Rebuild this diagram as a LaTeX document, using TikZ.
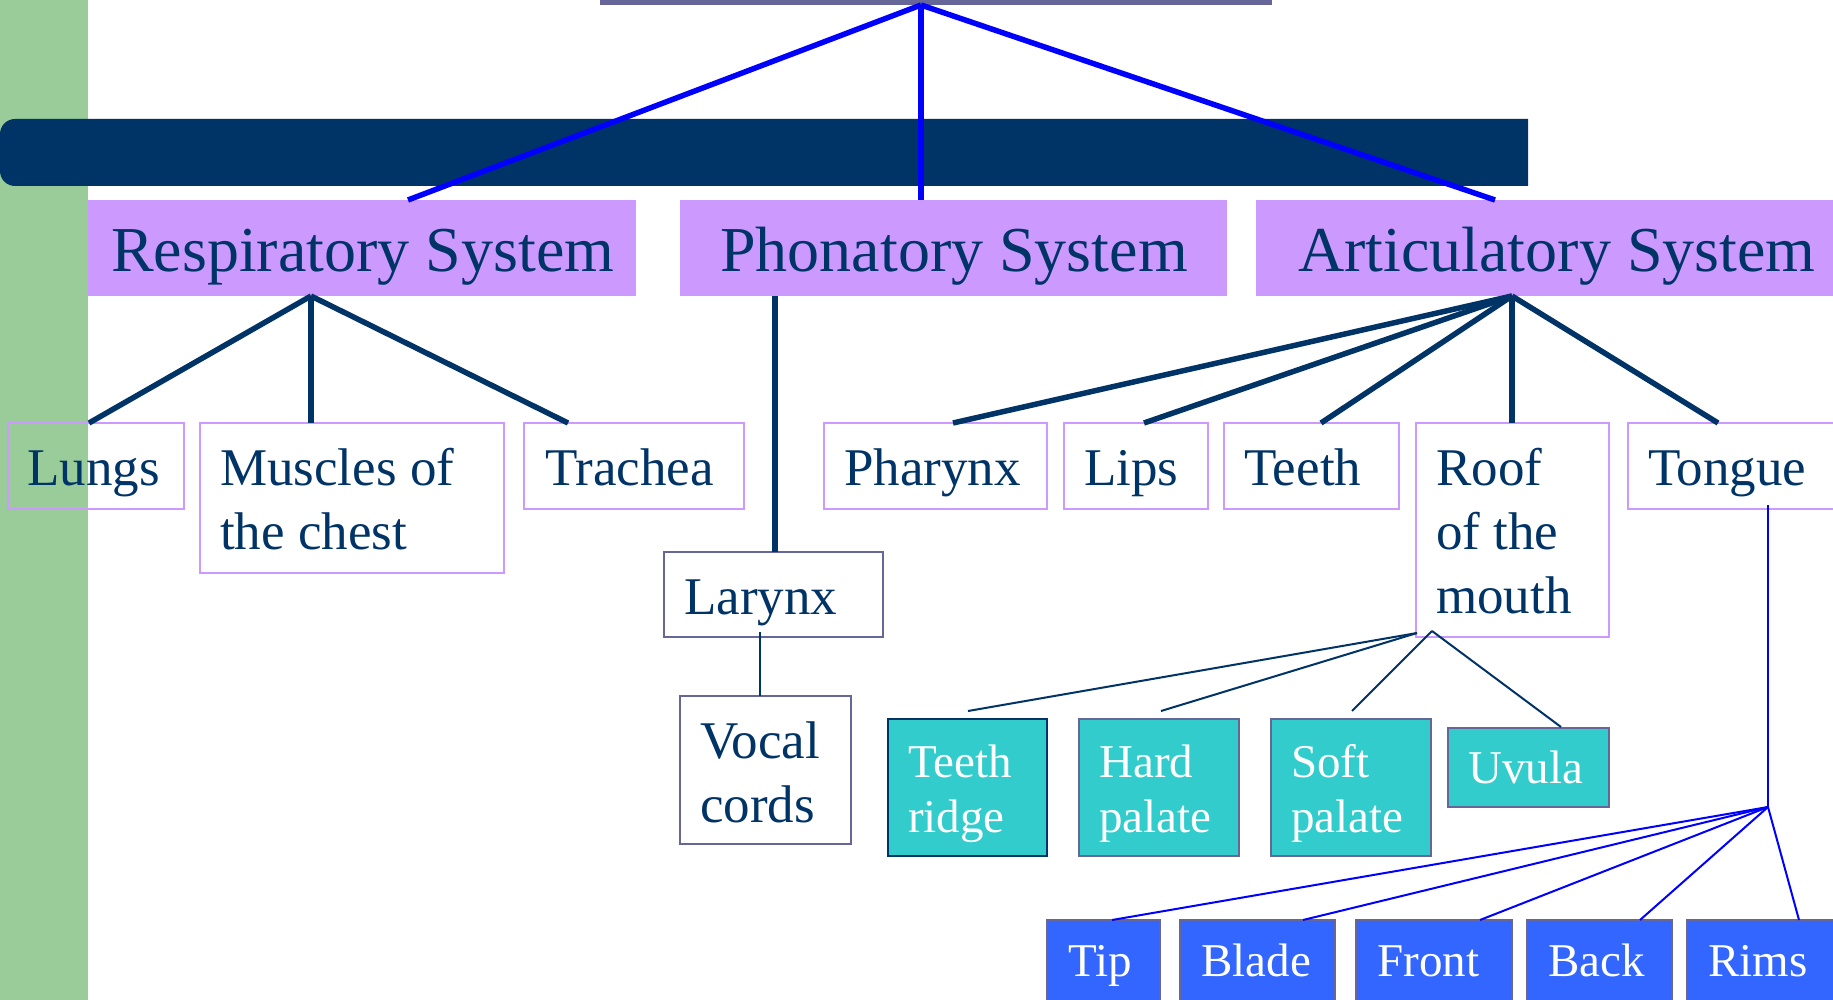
\documentclass[tikz,border=0pt]{standalone}
\usepackage{fontspec}
\setmainfont{Liberation Serif}
\definecolor{navy}{HTML}{003366}
\definecolor{lav}{HTML}{CC99FF}
\definecolor{slate}{HTML}{666699}
\definecolor{tealbox}{HTML}{33CCCC}
\definecolor{bluebox}{HTML}{3366FF}
\definecolor{sage}{HTML}{99CC99}
\definecolor{linkblue}{HTML}{0000FF}
\begin{document}
\begin{tikzpicture}[x=1pt,y=-1pt,
  boxbase/.style={anchor=north west, inner sep=0pt, outer sep=0pt},
  sysbox/.style={boxbase, fill=lav},
  partbox/.style={boxbase, draw=lav, line width=2pt},
  phonbox/.style={boxbase, draw=slate, line width=2pt},
  roofbox/.style={boxbase, fill=tealbox, draw=slate, line width=2pt},
  tonguebox/.style={boxbase, fill=bluebox, draw=slate, line width=1.5pt},
  systxt/.style={anchor=base west, inner sep=0pt, text=navy, font=\fontsize{64}{77}\selectfont},
  parttxt/.style={anchor=base west, inner sep=0pt, text=navy, align=left, font=\fontsize{53}{64}\selectfont},
  subtxt/.style={anchor=base west, inner sep=0pt, text=white, align=left, font=\fontsize{47}{55}\selectfont},
  toplink/.style={draw=linkblue, line width=5.5pt},
  thicklink/.style={draw=navy, line width=5.5pt},
  thinlink/.style={draw=navy, line width=2pt},
  bluelink/.style={draw=linkblue, line width=2pt}
]
\useasboundingbox (0,0) rectangle (1833,1000);
\clip (0,0) rectangle (1833,1000);
\fill[white] (0,0) rectangle (1833,1000);
% background decorations
\fill[sage] (0,0) rectangle (88,1000);
\node[boxbase, fill=slate, minimum width=672pt, minimum height=5pt] (top) at (600,0) {};
\fill[navy] (1528,119) [rounded corners=15pt] -- (0,119) -- (0,186) [sharp corners] -- (1528,186) -- cycle;

% level 1
\node[sysbox, minimum width=548pt, minimum height=96pt] (resp) at (88,200) {};
\node[sysbox, minimum width=547pt, minimum height=96pt] (phon) at (680,200) {};
\node[sysbox, minimum width=600pt, minimum height=96pt] (artic) at (1256,200) {};
\node[systxt] (resp-t) at (111,272) {Respiratory System};
\node[systxt] (phon-t) at (720,272) {Phonatory System};
\node[systxt] (artic-t) at (1298,272) {Articulatory System};

\coordinate (apex) at (921,5);
\draw[toplink] (apex) -- ([xshift=320pt]resp.north west);
\draw[toplink] (apex) -- ([xshift=241pt]phon.north west);
\draw[toplink] (apex) -- ([xshift=239pt]artic.north west);

% level 2
\node[partbox, minimum width=176pt, minimum height=86pt] (lungs) at (8,423) {};
\node[partbox, minimum width=304pt, minimum height=150pt] (muscles) at (200,423) {};
\node[partbox, minimum width=220pt, minimum height=86pt] (trachea) at (524,423) {};
\node[partbox, minimum width=223pt, minimum height=86pt] (pharynx) at (824,423) {};
\node[partbox, minimum width=144pt, minimum height=86pt] (lips) at (1064,423) {};
\node[partbox, minimum width=175pt, minimum height=86pt] (teeth) at (1224,423) {};
\node[partbox, minimum width=193pt, minimum height=214pt] (roof) at (1416,423) {};
\node[partbox, minimum width=215pt, minimum height=86pt] (tongue) at (1628,423) {};
% multi-line labels: base anchor sits on the last line
\node[parttxt] (lungs-t) at (27,485) {Lungs};
\node[parttxt] (muscles-t) at (220,549) {Muscles of\\the chest};
\node[parttxt] (trachea-t) at (545,485) {Trachea};
\node[parttxt] (pharynx-t) at (844,485) {Pharynx};
\node[parttxt] (lips-t) at (1084,485) {Lips};
\node[parttxt] (teeth-t) at (1244,485) {Teeth};
\node[parttxt] (roof-t) at (1436,613) {Roof\\of the\\mouth};
\node[parttxt] (tongue-t) at (1648,485) {Tongue};

\draw[thicklink] ([xshift=223pt]resp.south west) -- ([xshift=81pt]lungs.north west);
\draw[thicklink] ([xshift=223pt]resp.south west) -- ([xshift=111pt]muscles.north west);
\draw[thicklink] ([xshift=223pt]resp.south west) -- ([xshift=44pt]trachea.north west);
\draw[thicklink] ([xshift=256pt]artic.south west) -- ([xshift=129pt]pharynx.north west);
\draw[thicklink] ([xshift=256pt]artic.south west) -- ([xshift=80pt]lips.north west);
\draw[thicklink] ([xshift=256pt]artic.south west) -- ([xshift=97pt]teeth.north west);
\draw[thicklink] ([xshift=256pt]artic.south west) -- ([xshift=96pt]roof.north west);
\draw[thicklink] ([xshift=256pt]artic.south west) -- ([xshift=90pt]tongue.north west);

% phonatory branch
\node[phonbox, minimum width=219pt, minimum height=85pt] (larynx) at (664,552) {};
\node[phonbox, minimum width=171pt, minimum height=148pt] (vocal) at (680,696) {};
\node[parttxt] (larynx-t) at (684,614) {Larynx};
\node[parttxt] (vocal-t) at (700,822) {Vocal\\cords};
\draw[thicklink] ([xshift=95pt]phon.south west) -- ([xshift=111pt]larynx.north west);
\draw[thinlink] ([xshift=96pt,yshift=5pt]larynx.south west) -- ([xshift=80pt]vocal.north west);

% roof of the mouth branch
\node[roofbox, draw=navy, line width=2.5pt, minimum width=159pt, minimum height=137pt] (ridge) at (888,719) {};
\node[roofbox, minimum width=160pt, minimum height=137pt] (hard) at (1079,719) {};
\node[roofbox, minimum width=160pt, minimum height=137pt] (soft) at (1271,719) {};
\node[roofbox, minimum width=161pt, minimum height=79pt] (uvula) at (1448,728) {};
\node[subtxt] (ridge-t) at (908,832) {Teeth\\ridge};
\node[subtxt] (hard-t) at (1099,832) {Hard\\palate};
\node[subtxt] (soft-t) at (1291,832) {Soft\\palate};
\node[subtxt] (uvula-t) at (1468,783) {Uvula};
\coordinate (r1) at ([xshift=1pt,yshift=4pt]roof.south west);
\coordinate (r2) at ([xshift=16pt,yshift=6pt]roof.south west);
\draw[thinlink] (r1) -- ([xshift=80pt,yshift=8pt]ridge.north west);
\draw[thinlink] (r1) -- ([xshift=82pt,yshift=8pt]hard.north west);
\draw[thinlink] (r2) -- ([xshift=81pt,yshift=8pt]soft.north west);
\draw[thinlink] (r2) -- ([xshift=113pt,yshift=1pt]uvula.north west);

% tongue branch
\node[tonguebox, minimum width=113pt, minimum height=100pt] (tip) at (1047,920) {};
\node[tonguebox, minimum width=155pt, minimum height=100pt] (blade) at (1180,920) {};
\node[tonguebox, minimum width=156pt, minimum height=100pt] (front) at (1356,920) {};
\node[tonguebox, minimum width=145pt, minimum height=100pt] (back) at (1527,920) {};
\node[tonguebox, minimum width=160pt, minimum height=100pt] (rims) at (1687,920) {};
\node[subtxt] (tip-t) at (1068,976) {Tip};
\node[subtxt] (blade-t) at (1201,976) {Blade};
\node[subtxt] (front-t) at (1377,976) {Front};
\node[subtxt] (back-t) at (1548,976) {Back};
\node[subtxt] (rims-t) at (1708,976) {Rims};
\coordinate (tj) at (1768,807);
\draw[bluelink] ([xshift=140pt,yshift=4pt]tongue.south west) -- (tj);
\draw[bluelink] (tj) -- ([xshift=65pt]tip.north west);
\draw[bluelink] (tj) -- ([xshift=123pt]blade.north west);
\draw[bluelink] (tj) -- ([xshift=124pt]front.north west);
\draw[bluelink] (tj) -- ([xshift=113pt]back.north west);
\draw[bluelink] (tj) -- ([xshift=112pt]rims.north west);
\end{tikzpicture}
\end{document}
